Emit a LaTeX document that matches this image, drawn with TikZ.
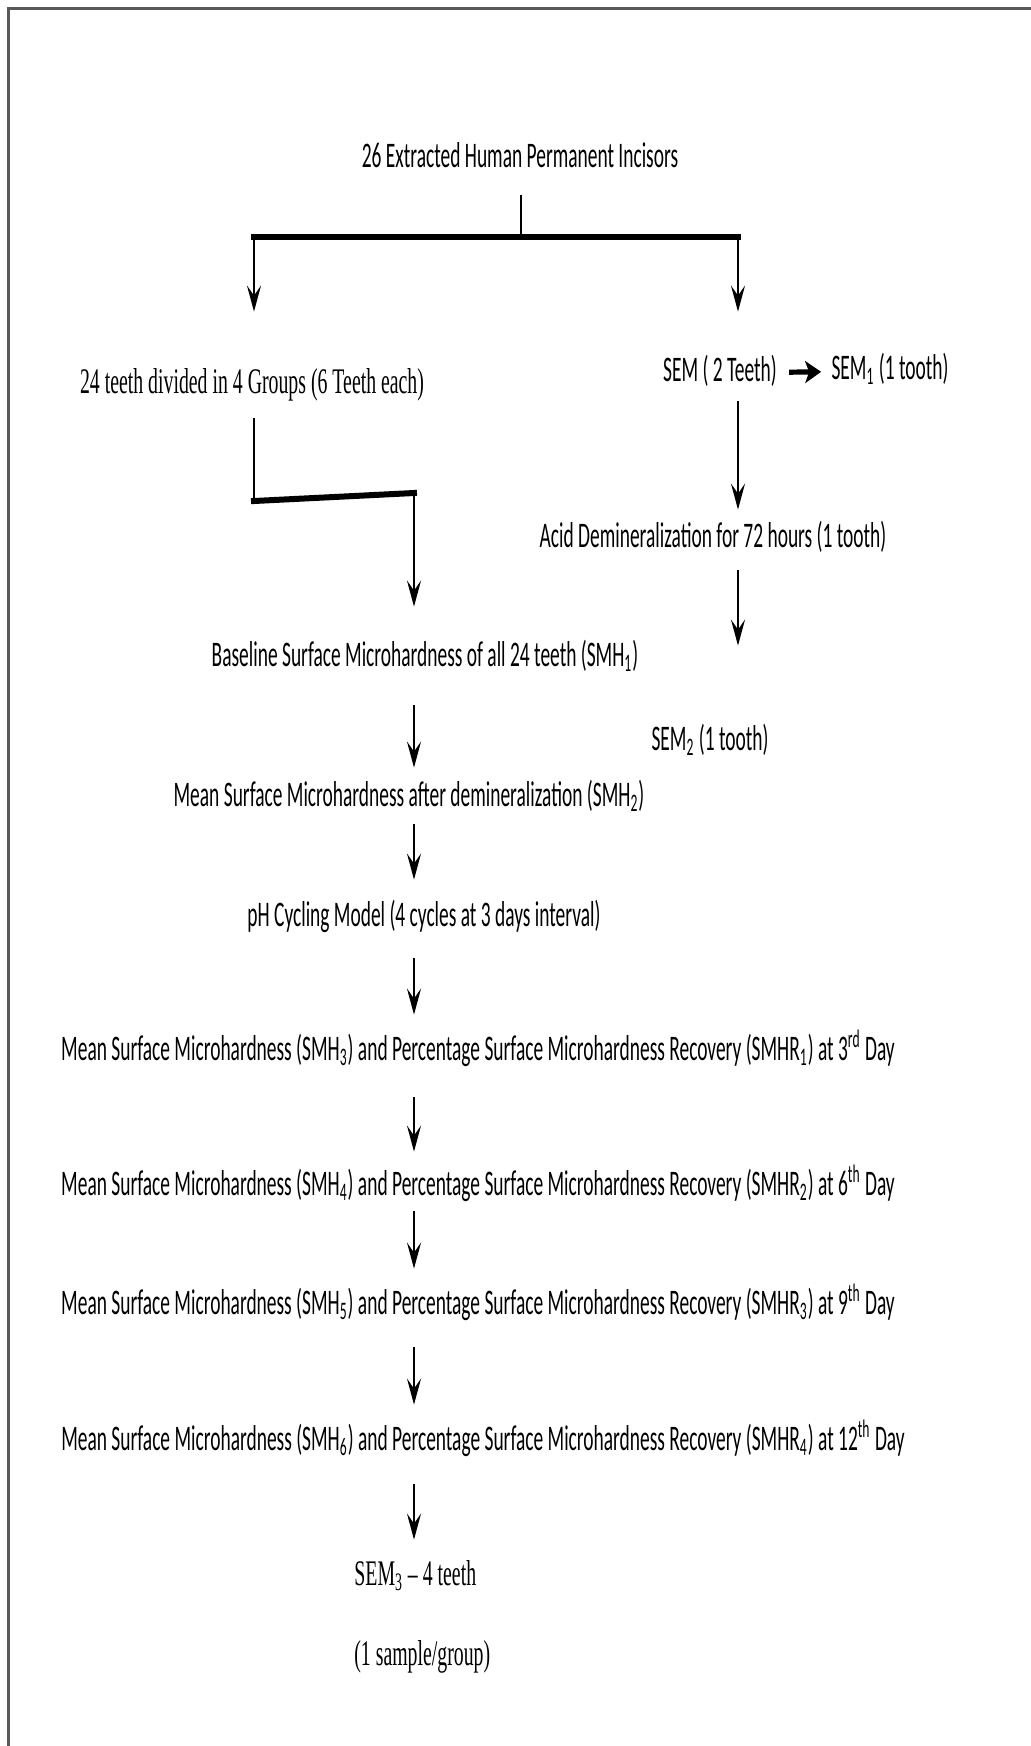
\documentclass[tikz,border=0pt]{standalone}
\usepackage{fontspec}
\setmainfont{Carlito}[FakeStretch=0.54]
\newfontfamily\narrowserif{Liberation Serif}[FakeStretch=0.55]
\usepackage{tikz}
\usetikzlibrary{arrows.meta}
\usetikzlibrary{calc}

\tikzset{
  lbl/.style={inner sep=0pt, text height=12pt, text depth=4pt, font=\fontsize{18}{20}\selectfont},
  serlbl/.style={lbl, font=\fontsize{18}{20}\selectfont\narrowserif},
  arr/.style={line width=1.4pt, ->, >={Stealth[length=13pt,width=7pt,inset=5pt]}},
  thickbar/.style={line width=3pt, line cap=rect}
}

\begin{document}
\begin{tikzpicture}[x=0.5pt,y=-0.5pt]
\useasboundingbox (0,0) rectangle (1031,1746);

%frame
\draw[line width=1.5pt, gray!70!black] (8,1746) -- (8,8) -- (1031,8);

%top
\node[lbl] (title) at (520,159) {26 Extracted Human Permanent Incisors};
\coordinate (split) at (521,237);
\coordinate (barL) at (254,237);
\coordinate (barR) at (738,237);
\draw[line width=1.4pt, shorten <=10pt] (title.south -| split) -- (split);
\draw[thickbar] (barL) -- (barR);

%left and right branch
\node[serlbl] (groups) at (252,385) {24 teeth divided in 4 Groups (6 Teeth each)};
\node[lbl] (sem) at (720,373) {SEM ( 2 Teeth)};
\node[lbl] (semone) at (890,371) {SEM\textsubscript{1} (1 tooth)};
\draw[arr, shorten >=28.5pt] (barL) -- (barL |- groups.north);
\draw[arr, shorten >=22.5pt] (barR) -- (barR |- sem.north);
\draw[line width=2.6pt, ->, >={Stealth[length=8pt,width=11pt,inset=2pt]}, shorten <=6pt, shorten >=5pt] (sem) -- (semone);

%SEM column
\node[lbl] (acid) at (713,539) {Acid Demineralization for 72 hours (1 tooth)};
\node[lbl] (semtwo) at (710,742) {SEM\textsubscript{2} (1 tooth)};
\draw[arr, shorten <=6pt, shorten >=6.5pt] (barR |- sem.south) -- (barR |- acid.north);
\draw[arr, shorten <=7.5pt, shorten >=40pt] (barR |- acid.south) -- (barR |- semtwo.north);

%main column
\coordinate (col) at (414,0);
\coordinate (elbowA) at (254,501);
\coordinate (elbowB) at (414,493);
\node[lbl] (base) at (425,658) {Baseline Surface Microhardness of all 24 teeth (SMH\textsubscript{1})};
\node[lbl] (demin) at (409,798) {Mean Surface Microhardness after demineralization (SMH\textsubscript{2})};
\node[lbl] (cycle) at (424,918) {pH Cycling Model (4 cycles at 3 days interval)};
\draw[line width=1.4pt, shorten <=8.5pt] (barL |- groups.south) -- (elbowA);
\draw[thickbar] (elbowA) -- (elbowB);
\draw[arr, shorten >=17.5pt] (elbowB) -- (col |- base.north);
\draw[arr, shorten <=15.5pt, shorten >=7pt] (col |- base.south) -- (col |- demin.north);
\draw[arr, shorten <=5pt, shorten >=11pt] (col |- demin.south) -- (col |- cycle.north);

%days
\node[lbl] (dayA) at (478,1052) {Mean Surface Microhardness (SMH\textsubscript{3}) and Percentage Surface Microhardness Recovery (SMHR\textsubscript{1}) at 3\textsuperscript{rd} Day};
\node[lbl] (dayB) at (478,1187) {Mean Surface Microhardness (SMH\textsubscript{4}) and Percentage Surface Microhardness Recovery (SMHR\textsubscript{2}) at 6\textsuperscript{th} Day};
\node[lbl] (dayC) at (478,1306) {Mean Surface Microhardness (SMH\textsubscript{5}) and Percentage Surface Microhardness Recovery (SMHR\textsubscript{3}) at 9\textsuperscript{th} Day};
\node[lbl] (dayD) at (483,1442) {Mean Surface Microhardness (SMH\textsubscript{6}) and Percentage Surface Microhardness Recovery (SMHR\textsubscript{4}) at 12\textsuperscript{th} Day};
\draw[arr, shorten <=12pt, shorten >=10.5pt] (col |- cycle.south) -- (col |- dayA.north);
\draw[arr, shorten <=14.5pt, shorten >=9.5pt] (col |- dayA.south) -- (col |- dayB.north);
\draw[arr, shorten <=4pt, shorten >=10.5pt] (col |- dayB.south) -- (col |- dayC.north);
\draw[arr, shorten <=12.5pt, shorten >=10.5pt] (col |- dayC.south) -- (col |- dayD.north);

%bottom
\node[serlbl, anchor=west] (semthree) at (354,1577) {SEM\textsubscript{3} – 4 teeth};
\node[serlbl, anchor=west] (sample) at (354,1657) {(1 sample/group)};
\draw[arr, shorten <=13pt, shorten >=10.5pt] (col |- dayD.south) -- (col |- semthree.north);

\end{tikzpicture}
\end{document}
